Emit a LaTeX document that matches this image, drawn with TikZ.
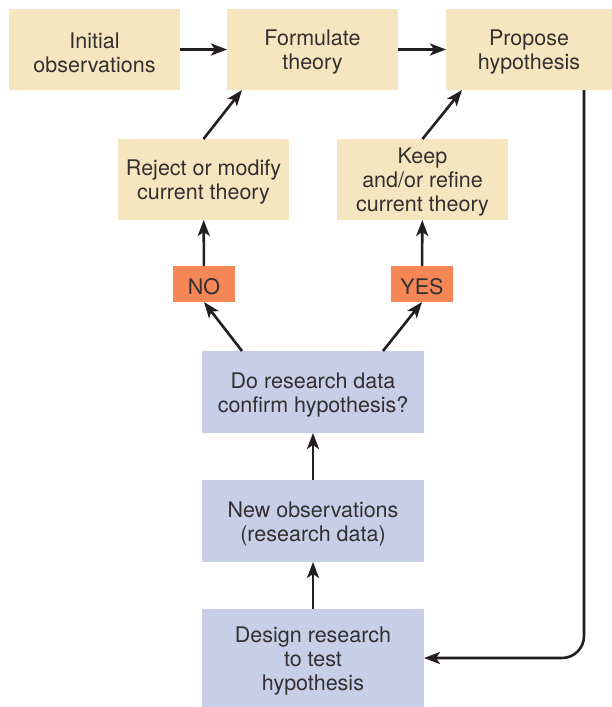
\documentclass[tikz,border=0pt]{standalone}
\usepackage{fontspec}
\setmainfont{TeX Gyre Heros}
\usepackage{xcolor}
\usepackage{tikz}
\usetikzlibrary{arrows.meta, positioning, calc}
\definecolor{theoriebeige}{RGB}{246,230,192}
\definecolor{rechercheblue}{RGB}{199,206,231}
\definecolor{reponseorange}{RGB}{245,135,86}
\definecolor{texte}{RGB}{52,47,48}
\definecolor{fleche}{RGB}{35,31,32}
\newcommand{\haut}{\rule{0pt}{1em}}

\begin{document}
\begin{tikzpicture}[x=1pt, y=-1pt,
    every node/.style={rectangle, inner sep=0pt, outer sep=0pt, align=center, text=texte,
        font=\fontsize{21.5}{24}\selectfont},
    theorie/.style={fill=theoriebeige, minimum width=171pt, minimum height=81pt},
    recherche/.style={fill=rechercheblue, minimum width=222pt, minimum height=82pt},
    reponse/.style={fill=reponseorange, minimum width=62pt, minimum height=36pt},
    fl/.style={-{Stealth[length=16pt,width=12pt,inset=4pt]}, line width=2.6pt, color=fleche}]
    \useasboundingbox (0,0) rectangle (612,707);

    \node[theorie] (init) at (94.5,49.5) {\haut Initial\\observations};
    \node[theorie] (formulate) at (312.5,49.5) {\haut Formulate\\theory};
    \node[theorie, minimum width=166pt] (propose) at (529,49.5) {\haut Propose\\hypothesis};
    \node[theorie] (reject) at (203.5,179.5) {\haut Reject or modify\\current theory};
    \node[theorie] (keep) at (422.5,179.5) {\haut Keep\\and/or refine\\current theory};
    \node[reponse] (no) at (204,284) {\haut NO};
    \node[reponse] (yes) at (422,284) {\haut YES};
    \node[recherche] (confirm) at (313,392) {\haut Do research data\\confirm hypothesis?};
    \node[recherche] (newobs) at (313,521) {\haut New observations\\(research data)};
    \node[recherche, minimum height=98pt] (design) at (313,658) {\haut Design research\\to test\\hypothesis};
    \coordinate (turn) at (584,658);

    \draw[fl] (init) -- (formulate);
    \draw[fl] (formulate) -- (propose);
    \draw[fl] (reject.north) -- ([xshift=15pt]formulate.south west);
    \draw[fl] (keep.north) -- ([xshift=16pt]propose.south west);
    \draw[fl] (no) -- (reject);
    \draw[fl] (yes) -- (keep);
    \draw[fl] ([xshift=40pt]confirm.north west) -- (no.south);
    \draw[fl] ([xshift=-41pt]confirm.north east) -- (yes.south);
    \draw[fl] (newobs) -- (confirm);
    \draw[fl] (design) -- (newobs);
    \draw[fl, rounded corners=22pt] (propose.south -| turn) |- (design.east);
\end{tikzpicture}
\end{document}
